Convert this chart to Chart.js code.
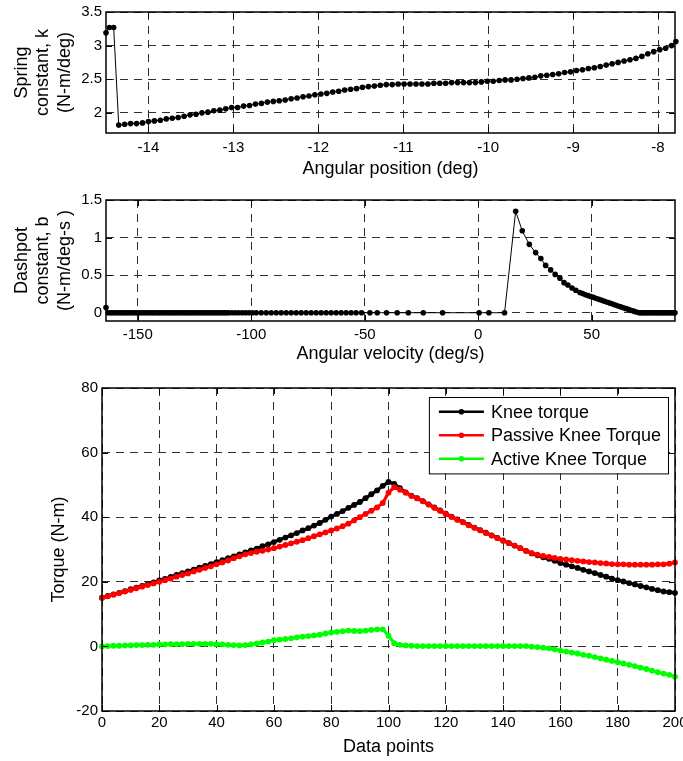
<!DOCTYPE html>
<html>
<head>
<meta charset="utf-8">
<script src="https://cdn.jsdelivr.net/npm/chart.js@4.4.0/dist/chart.umd.min.js"></script>
<style>
  html, body { margin: 0; padding: 0; background: #fff; }
  #page { position: relative; width: 683px; height: 761px; overflow: hidden; }
  .panel { position: absolute; left: 0; }
  canvas { display: block; }
</style>
</head>
<body>
<div id="page">
  <div class="panel" style="top:0px"><canvas id="springChart" width="683" height="180"></canvas></div>
  <div class="panel" style="top:180px"><canvas id="dashpotChart" width="683" height="185"></canvas></div>
  <div class="panel" style="top:365px"><canvas id="torqueChart" width="683" height="393"></canvas></div>
</div>
<script>
// --- spring constant vs angular position ---
const anglePos = [
  -14.5, -14.46, -14.41, -14.35, -14.28, -14.21, -14.14, -14.07, -14.0, -13.93,
  -13.86, -13.79, -13.72, -13.65, -13.58, -13.51, -13.44, -13.37, -13.3, -13.23,
  -13.16, -13.09, -13.02, -12.95, -12.88, -12.81, -12.74, -12.67, -12.6, -12.53,
  -12.46, -12.39, -12.32, -12.25, -12.18, -12.11, -12.04, -11.97, -11.9, -11.83,
  -11.76, -11.69, -11.62, -11.55, -11.48, -11.41, -11.34, -11.27, -11.2, -11.13,
  -11.06, -10.99, -10.92, -10.85, -10.78, -10.71, -10.64, -10.57, -10.5, -10.43,
  -10.36, -10.29, -10.22, -10.15, -10.08, -10.01, -9.94, -9.87, -9.8, -9.73,
  -9.66, -9.59, -9.52, -9.45, -9.38, -9.31, -9.24, -9.17, -9.1, -9.03,
  -8.96, -8.89, -8.82, -8.75, -8.68, -8.61, -8.54, -8.47, -8.4, -8.33,
  -8.26, -8.19, -8.12, -8.05, -7.98, -7.91, -7.84, -7.79
];
const springK = [
  3.19, 3.27, 3.27, 1.82, 1.83, 1.84, 1.84, 1.85, 1.87, 1.88,
  1.89, 1.91, 1.92, 1.93, 1.95, 1.97, 1.98, 2.00, 2.01, 2.03,
  2.04, 2.06, 2.08, 2.08, 2.10, 2.11, 2.13, 2.14, 2.16, 2.17,
  2.18, 2.19, 2.21, 2.22, 2.24, 2.25, 2.27, 2.28, 2.29, 2.31,
  2.32, 2.34, 2.35, 2.36, 2.38, 2.39, 2.40, 2.41, 2.42, 2.42,
  2.43, 2.43, 2.43, 2.43, 2.43, 2.43, 2.44, 2.44, 2.44, 2.45,
  2.45, 2.45, 2.45, 2.45, 2.46, 2.47, 2.47, 2.48, 2.49, 2.49,
  2.50, 2.51, 2.52, 2.53, 2.55, 2.56, 2.57, 2.58, 2.60, 2.61,
  2.63, 2.64, 2.66, 2.67, 2.69, 2.71, 2.73, 2.75, 2.77, 2.79,
  2.81, 2.84, 2.88, 2.91, 2.94, 2.96, 3.00, 3.06
];
const posTicks = [-14, -13, -12, -11, -10, -9, -8];
const kTicks = [2, 2.5, 3, 3.5];

// --- dashpot constant vs angular velocity ---
const angleVel = [
  -164, -163, -162, -161, -160, -159, -158, -157, -156, -155,
  -154, -153, -152, -151, -150, -149, -148, -147, -146, -145,
  -144, -143, -142, -141, -140, -139, -138, -137, -136, -135,
  -134, -133, -132, -131, -130, -129, -128, -127, -126, -125,
  -124, -123, -122, -121, -120, -119, -118, -117, -116, -115,
  -114, -113, -112, -111, -110, -108.5, -107, -105.5, -104, -102.5,
  -101, -99.5, -97.8, -95.6, -93.4, -91.2, -89.0, -86.8, -84.6, -82.4,
  -80.2, -78.0, -75.8, -73.6, -71.4, -69.2, -67.0, -64.8, -62.6, -60.4,
  -58.2, -56.0, -53.8, -51.4, -47.7, -44.5, -40.4, -35.7, -30.8, -24.2,
  -15.7, 0.4, 4.7, 11.6, 16.5, 19.4, 22.5, 25.3, 27.6, 29.7,
  31.9, 33.9, 36.0, 37.8, 39.5, 41.3, 43.0, 44.8, 46.0, 47.2,
  48.4, 49.6, 50.8, 52.0, 53.2, 54.4, 55.6, 56.8, 58.0, 59.2,
  60.4, 61.6, 62.8, 64.0, 65.2, 66.4, 67.6, 68.8, 70.0, 71.0,
  71.8, 72.6, 73.4, 74.2, 75.0, 75.8, 76.6, 77.4, 78.2, 79.0,
  79.8, 80.6, 81.4, 82.2, 83.0, 83.8, 84.6, 85.4, 86.2, 86.7
];
const dashpotB = [
  0.07, 0, 0, 0, 0, 0, 0, 0, 0, 0,
  0, 0, 0, 0, 0, 0, 0, 0, 0, 0,
  0, 0, 0, 0, 0, 0, 0, 0, 0, 0,
  0, 0, 0, 0, 0, 0, 0, 0, 0, 0,
  0, 0, 0, 0, 0, 0, 0, 0, 0, 0,
  0, 0, 0, 0, 0, 0, 0, 0, 0, 0,
  0, 0, 0, 0, 0, 0, 0, 0, 0, 0,
  0, 0, 0, 0, 0, 0, 0, 0, 0, 0,
  0, 0, 0, 0, 0, 0, 0, 0, 0, 0,
  0, 0, 0, 0, 1.35, 1.09, 0.91, 0.80, 0.72, 0.63,
  0.57, 0.51, 0.46, 0.40, 0.37, 0.33, 0.30, 0.27, 0.255, 0.24,
  0.228, 0.216, 0.205, 0.19, 0.178, 0.165, 0.153, 0.14, 0.128, 0.115,
  0.103, 0.09, 0.078, 0.066, 0.054, 0.042, 0.03, 0.018, 0.006, 0,
  0, 0, 0, 0, 0, 0, 0, 0, 0, 0,
  0, 0, 0, 0, 0, 0, 0, 0, 0, 0
];
const velTicks = [-150, -100, -50, 0, 50];
const bTicks = [0, 0.5, 1, 1.5];

// --- knee torques over the data points ---
const dataPoints = [
  0, 2, 4, 6, 8, 10, 12, 14, 16, 18,
  20, 22, 24, 26, 28, 30, 32, 34, 36, 38,
  40, 42, 44, 46, 48, 50, 52, 54, 56, 58,
  60, 62, 64, 66, 68, 70, 72, 74, 76, 78,
  80, 82, 84, 86, 88, 90, 92, 94, 96, 98,
  100, 102, 104, 106, 108, 110, 112, 114, 116, 118,
  120, 122, 124, 126, 128, 130, 132, 134, 136, 138,
  140, 142, 144, 146, 148, 150, 152, 154, 156, 158,
  160, 162, 164, 166, 168, 170, 172, 174, 176, 178,
  180, 182, 184, 186, 188, 190, 192, 194, 196, 198,
  200
];
const kneeTorque = [
  15.1, 15.6, 16.1, 16.6, 17.1, 17.7, 18.2, 18.7, 19.3, 19.8,
  20.4, 20.9, 21.5, 22.1, 22.7, 23.2, 23.8, 24.4, 24.9, 25.5,
  26.1, 26.7, 27.3, 27.9, 28.5, 29.1, 29.7, 30.3, 31.0, 31.6,
  32.3, 33.0, 33.7, 34.4, 35.1, 35.9, 36.6, 37.4, 38.2, 39.2,
  40.2, 41.0, 41.9, 42.9, 43.8, 44.7, 45.9, 47.1, 48.3, 49.7,
  50.9, 50.3, 49.0, 47.7, 46.7, 45.9, 45.0, 44.0, 43.0, 42.1,
  41.1, 40.2, 39.3, 38.5, 37.6, 36.8, 36.0, 35.2, 34.4, 33.6,
  32.8, 32.0, 31.2, 30.4, 29.6, 28.8, 28.2, 27.6, 27.1, 26.5,
  25.8, 25.3, 24.8, 24.3, 23.7, 23.2, 22.7, 22.1, 21.6, 21.0,
  20.5, 20.1, 19.6, 19.2, 18.7, 18.3, 17.8, 17.4, 17.0, 16.8,
  16.6
];
const passiveTorque = [
  15.1, 15.5, 16.0, 16.5, 17.0, 17.5, 18.0, 18.5, 19.0, 19.5,
  20.0, 20.5, 21.0, 21.6, 22.1, 22.6, 23.2, 23.7, 24.3, 24.8,
  25.4, 26.0, 26.6, 27.3, 27.9, 28.5, 28.9, 29.3, 29.6, 30.0,
  30.4, 30.9, 31.4, 31.9, 32.4, 32.9, 33.5, 34.1, 34.7, 35.3,
  35.9, 36.5, 37.2, 38.0, 39.0, 40.0, 41.0, 42.0, 43.0, 44.4,
  47.6, 49.3, 48.5, 47.6, 46.6, 45.8, 44.9, 43.9, 42.9, 42.0,
  41.0, 40.1, 39.2, 38.4, 37.5, 36.7, 35.9, 35.1, 34.3, 33.5,
  32.7, 32.0, 31.2, 30.4, 29.6, 28.9, 28.4, 28.0, 27.7, 27.4,
  27.1, 26.9, 26.7, 26.5, 26.3, 26.1, 26.0, 25.8, 25.7, 25.5,
  25.4, 25.4, 25.3, 25.3, 25.3, 25.3, 25.3, 25.4, 25.4, 25.6,
  26.0
];
const activeTorque = [
  0.0, 0.1, 0.2, 0.2, 0.3, 0.3, 0.4, 0.4, 0.5, 0.5,
  0.6, 0.6, 0.7, 0.7, 0.7, 0.8, 0.8, 0.8, 0.8, 0.8,
  0.7, 0.6, 0.5, 0.4, 0.3, 0.4, 0.6, 0.9, 1.2, 1.5,
  1.9, 2.1, 2.3, 2.5, 2.8, 3.0, 3.2, 3.4, 3.6, 4.0,
  4.3, 4.5, 4.7, 4.9, 4.8, 4.7, 4.9, 5.1, 5.3, 5.3,
  3.3, 1.0, 0.5, 0.3, 0.2, 0.1, 0.1, 0.1, 0.1, 0.1,
  0.1, 0.1, 0.1, 0.1, 0.1, 0.1, 0.1, 0.1, 0.1, 0.1,
  0.1, 0.1, 0.1, 0.1, 0.1, -0.1, -0.2, -0.4, -0.6, -0.9,
  -1.3, -1.6, -1.9, -2.2, -2.6, -2.9, -3.3, -3.7, -4.1, -4.5,
  -4.9, -5.3, -5.7, -6.1, -6.6, -7.0, -7.5, -8.0, -8.4, -8.8,
  -9.4
];
const pointTicks = [0, 20, 40, 60, 80, 100, 120, 140, 160, 180, 200];
const torqueTicks = [-20, 0, 20, 40, 60, 80];

Chart.defaults.font.family = '"Liberation Sans", Arial, Helvetica, sans-serif';
Chart.defaults.color = '#000';

const tickFont = { size: 15 };
const titleFont = { size: 18 };
const gridStyle = { color: '#2e2e2e', lineWidth: 1, drawTicks: false };
const dashStyle = { display: false, dash: [8, 6] };

// box around the plot area with short inward tick marks
const axesBox = {
  id: 'axesBox',
  afterDatasetsDraw(chart) {
    const { ctx, chartArea: a } = chart;
    const xs = chart.scales.x, ys = chart.scales.y;
    ctx.save();
    ctx.strokeStyle = '#000';
    ctx.lineWidth = 1;
    ctx.beginPath();
    xs.ticks.forEach(t => {
      const px = Math.round(xs.getPixelForValue(t.value)) + 0.5;
      ctx.moveTo(px, a.bottom); ctx.lineTo(px, a.bottom - 6);
      ctx.moveTo(px, a.top); ctx.lineTo(px, a.top + 6);
    });
    ys.ticks.forEach(t => {
      const py = Math.round(ys.getPixelForValue(t.value)) + 0.5;
      ctx.moveTo(a.left, py); ctx.lineTo(a.left + 6, py);
      ctx.moveTo(a.right, py); ctx.lineTo(a.right - 6, py);
    });
    ctx.stroke();
    ctx.lineWidth = 1.5;
    ctx.strokeRect(a.left, a.top, a.right - a.left, a.bottom - a.top);
    ctx.restore();
  }
};

// legend boxed in the upper right corner of the plot area
const insideLegend = {
  id: 'insideLegend',
  afterDraw(chart) {
    const { ctx, chartArea: a } = chart;
    const sets = chart.data.datasets;
    ctx.save();
    ctx.font = '18px "Liberation Sans", Arial, sans-serif';
    const textW = Math.max(...sets.map(d => ctx.measureText(d.label).width));
    const rowH = 23.5;
    const w = 62 + textW + 7;
    const h = rowH * (sets.length - 1) + 29.4;
    const right = a.right - 7, top = a.top + 9, left = right - w;
    ctx.fillStyle = '#fff';
    ctx.fillRect(left, top, w, h);
    ctx.strokeStyle = '#000';
    ctx.lineWidth = 1;
    ctx.strokeRect(left + 0.5, top + 0.5, w, h);
    sets.forEach((d, i) => {
      const y = top + 14.7 + i * rowH;
      ctx.strokeStyle = d.borderColor;
      ctx.lineWidth = 2.5;
      ctx.beginPath();
      ctx.moveTo(left + 10, y); ctx.lineTo(left + 55, y);
      ctx.stroke();
      ctx.fillStyle = d.borderColor;
      ctx.beginPath();
      ctx.arc(left + 32.5, y, 2.8, 0, Math.PI * 2);
      ctx.fill();
      ctx.fillStyle = '#000';
      ctx.textBaseline = 'middle';
      ctx.textAlign = 'left';
      ctx.fillText(d.label, left + 62, y + 1);
    });
    ctx.restore();
  }
};

function xAxis(min, max, tickValues, title, tickPad, height) {
  return {
    type: 'linear', min, max,
    afterBuildTicks: s => { s.ticks = tickValues.map(v => ({ value: v })); },
    afterFit: s => { s.height = height; s.paddingLeft = 0; s.paddingRight = 0; },
    grid: gridStyle,
    border: dashStyle,
    ticks: { font: tickFont, padding: tickPad, autoSkip: false, maxRotation: 0, callback: v => String(v) },
    title: { display: true, text: title, font: titleFont, padding: { top: 0, bottom: 0 } }
  };
}

function yAxis(min, max, tickValues, title, titlePad, width) {
  return {
    type: 'linear', min, max,
    afterBuildTicks: s => { s.ticks = tickValues.map(v => ({ value: v })); },
    afterFit: s => { s.width = width; s.paddingTop = 0; s.paddingBottom = 0; },
    grid: gridStyle,
    border: dashStyle,
    ticks: { font: tickFont, padding: 4, autoSkip: false, callback: v => String(v) },
    title: { display: true, text: title, font: titleFont, padding: { top: titlePad, bottom: 0 } }
  };
}

function baseOptions(pad) {
  return {
    responsive: false,
    animation: false,
    devicePixelRatio: 1,
    layout: { padding: pad },
    plugins: { legend: { display: false }, tooltip: { enabled: false } }
  };
}

const dotLine = {
  borderColor: '#000',
  backgroundColor: '#000',
  borderWidth: 1,
  pointRadius: 2.8,
  pointBorderWidth: 0,
  pointBackgroundColor: '#000',
  clip: false
};

new Chart(document.getElementById('springChart'), {
  type: 'line',
  data: {
    datasets: [{ ...dotLine, data: anglePos.map((x, i) => ({ x, y: springK[i] })) }]
  },
  options: {
    ...baseOptions({ top: 12, right: 8, bottom: 0, left: 0 }),
    scales: {
      x: xAxis(-14.5, -7.8, posTicks, 'Angular position (deg)', 6, 47),
      y: yAxis(1.7, 3.5, kTicks, ['Spring', 'constant, k', '(N-m/deg)'], 11, 106)
    }
  },
  plugins: [axesBox]
});

new Chart(document.getElementById('dashpotChart'), {
  type: 'line',
  data: {
    datasets: [{ ...dotLine, data: angleVel.map((x, i) => ({ x, y: dashpotB[i] })) }]
  },
  options: {
    ...baseOptions({ top: 20, right: 8, bottom: 0, left: 0 }),
    scales: {
      x: xAxis(-164, 86.7, velTicks, 'Angular velocity (deg/s)', 5, 44),
      y: yAxis(-0.11, 1.5, bTicks, ['Dashpot', 'constant, b', '(N-m/deg-s )'], 11, 106)
    }
  },
  plugins: [axesBox]
});

const torqueLine = color => ({
  borderColor: color,
  backgroundColor: color,
  borderWidth: 3.2,
  pointRadius: 2.9,
  pointBorderWidth: 0,
  pointBackgroundColor: color,
  clip: false
});

new Chart(document.getElementById('torqueChart'), {
  type: 'line',
  data: {
    labels: dataPoints,
    datasets: [
      { ...torqueLine('#000000'), label: 'Knee torque', data: kneeTorque, order: 3 },
      { ...torqueLine('#ff0000'), label: 'Passive Knee Torque', data: passiveTorque, order: 2 },
      { ...torqueLine('#00ff00'), label: 'Active Knee Torque', data: activeTorque, order: 1 }
    ]
  },
  options: {
    ...baseOptions({ top: 23, right: 8, bottom: 0, left: 0 }),
    scales: {
      x: xAxis(0, 200, pointTicks, 'Data points', 3, 47),
      y: yAxis(-20, 80, torqueTicks, 'Torque (N-m)', 48, 102)
    }
  },
  plugins: [axesBox, insideLegend]
});
</script>
</body>
</html>
